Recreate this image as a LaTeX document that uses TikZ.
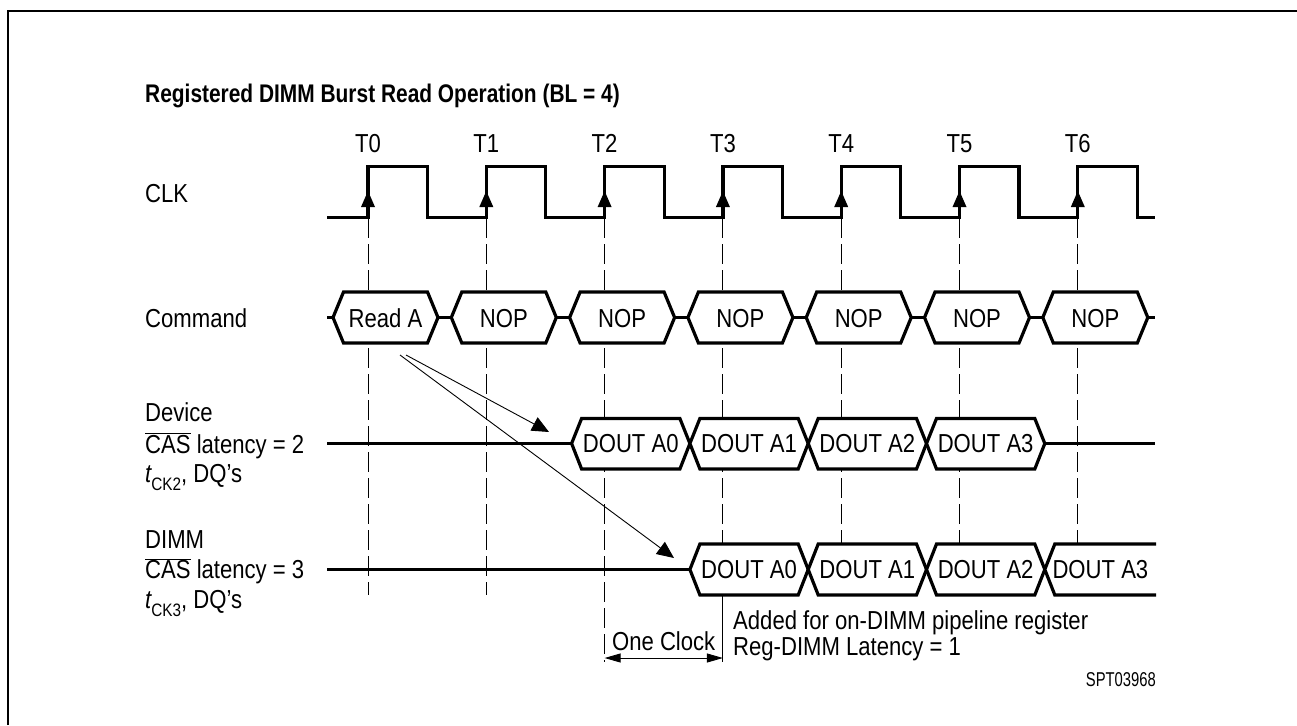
\documentclass[tikz,border=0pt]{standalone}
\usepackage{fontspec}
\setmainfont{Liberation Sans}[FakeStretch=0.85]
\newfontfamily\titlefont{Liberation Sans}[FakeStretch=0.82]
\newfontfamily\smallfont{Liberation Sans}[FakeStretch=0.74]
\usetikzlibrary{arrows.meta}
\begin{document}
\begin{tikzpicture}[x=1pt,y=-1pt,
  sig/.style={line width=3.2pt, line join=miter},
  gridline/.style={line width=0.9pt, dash pattern=on 20pt off 6pt},
  thin/.style={line width=0.9pt},
  lbl/.style={inner sep=0pt, font=\fontsize{26}{30}\selectfont},
  thinarrow/.style={line width=0.9pt, -{Triangle[length=17pt,width=15pt]}},
  dimarrow/.style={line width=0.9pt, {Triangle[length=16pt,width=9pt]}-{Triangle[length=16pt,width=9pt]}}]
\useasboundingbox (0,0) rectangle (1297,725);
\fill[white] (0,0) rectangle (1297,725);
% frame
\draw[line width=2pt] (8,725) -- (8,11) -- (1297,11);
% title
\node[anchor=base west, inner sep=0pt, font=\titlefont\fontsize{25.5}{30}\selectfont\bfseries] (title) at (145,102) {Registered DIMM Burst Read Operation (BL = 4)};
% dashed time lines
\foreach \i/\yend in {0/595,1/595,2/662,3/544,4/544,5/544,6/544}{
  \draw[gridline] ({368+118.3*\i},218) -- ({368+118.3*\i},\yend);
}
\draw[thin] (722.9,596) -- (722.9,662);
% time labels
\foreach \i in {0,...,6}{
  \node[lbl, anchor=base] (T\i) at ({368+118.3*\i},152) {T\i};
}
% clock
\draw[sig] (327,217.7) \foreach \i in {0,...,6}{ -- ({368+118.3*\i},217.7) -- ({368+118.3*\i},166.7) -- ({427.5+118.3*\i},166.7) -- ({427.5+118.3*\i},217.7) } -- (1155,217.7);
\foreach \i in {0,...,6}{
  \fill ({368+118.3*\i-7},207) -- ({368+118.3*\i+7},207) -- ({368+118.3*\i},191) -- cycle;
}
% left labels
\node[lbl, anchor=base west] (clk) at (145,202) {CLK};
\node[lbl, anchor=base west] (cmdlbl) at (145,327) {Command};
\node[lbl, anchor=base west] (devA) at (145,421) {Device};
\node[lbl, anchor=base west] (devB) at (145,453) {$\overline{\mbox{CAS}}$ latency = 2};
\node[lbl, anchor=base west] (devC) at (145,482) {{\itshape t}\raisebox{-8pt}{\fontsize{18}{18}\selectfont CK2}, DQ’s};
\node[lbl, anchor=base west] (dimA) at (145,548) {DIMM};
\node[lbl, anchor=base west] (dimB) at (145,578.5) {$\overline{\mbox{CAS}}$ latency = 3};
\node[lbl, anchor=base west] (dimC) at (145,608) {{\itshape t}\raisebox{-8pt}{\fontsize{18}{18}\selectfont CK3}, DQ’s};
% command row
\draw[sig] (327,317.5) -- (1155,317.5);
\foreach \i/\t in {0/Read A,1/NOP,2/NOP,3/NOP,4/NOP,5/NOP,6/NOP}{
  \pgfmathsetmacro\c{385.5+118.3*\i}
  \filldraw[sig, fill=white] ({\c-52.5},317.5) -- ({\c-42},292) -- ({\c+42},292) -- ({\c+52.5},317.5) -- ({\c+42},343) -- ({\c-42},343) -- cycle;
  \node[lbl, anchor=base] (cmd\i) at (\c,327) {\t};
}
% device row
\draw[sig] (327,443.5) -- (1155,443.5);
\foreach \k/\n in {2/0,3/1,4/2,5/3}{
  \pgfmathsetmacro\bl{368+118.3*\k-33}
  \pgfmathsetmacro\br{\bl+118.3}
  \pgfmathsetmacro\bc{\bl+59.15}
  \filldraw[sig, fill=white] (\bl,443.5) -- ({\bl+10},418.5) -- ({\br-10},418.5) -- (\br,443.5) -- ({\br-10},469) -- ({\bl+10},469) -- cycle;
  \node[lbl, anchor=base] (dev\n) at (\bc,452.5) {DOUT A\n};
}
% DIMM row
\draw[sig] (327,569.5) -- (1050,569.5);
\foreach \k/\n in {3/0,4/1,5/2}{
  \pgfmathsetmacro\bl{368+118.3*\k-33}
  \pgfmathsetmacro\br{\bl+118.3}
  \pgfmathsetmacro\bc{\bl+59.15}
  \filldraw[sig, fill=white] (\bl,569.5) -- ({\bl+10},544) -- ({\br-10},544) -- (\br,569.5) -- ({\br-10},595) -- ({\bl+10},595) -- cycle;
  \node[lbl, anchor=base] (dim\n) at (\bc,578.5) {DOUT A\n};
}
\fill[white] (1044.8,569.5) -- (1054.8,544) -- (1156,544) -- (1156,595) -- (1054.8,595) -- cycle;
\draw[sig] (1156,544) -- (1054.8,544) -- (1044.8,569.5) -- (1054.8,595) -- (1156,595);
\node[lbl, anchor=base] (dim3) at (1100.4,578.5) {DOUT A3};
% latency arrows
\coordinate (a1s) at (406,355);
\coordinate (a1e) at (549,432);
\coordinate (a2s) at (400,355);
\coordinate (a2e) at (674,558);
\draw[thinarrow] (a1s) -- (a1e);
\draw[thinarrow] (a2s) -- (a2e);
% one clock
\coordinate (oc1) at (604.6,658);
\coordinate (oc2) at (722.9,658);
\draw[dimarrow] (oc1) -- (oc2);
\node[lbl, anchor=base] (oneclk) at (663.7,650) {One Clock};
\node[lbl, anchor=base west] (added) at (733,629) {Added for on-DIMM pipeline register};
\node[lbl, anchor=base west] (regl) at (733,655) {Reg-DIMM Latency = 1};
\node[anchor=base east, inner sep=0pt, font=\smallfont\fontsize{20}{24}\selectfont] (spt) at (1156,686) {SPT03968};
\end{tikzpicture}
\end{document}
